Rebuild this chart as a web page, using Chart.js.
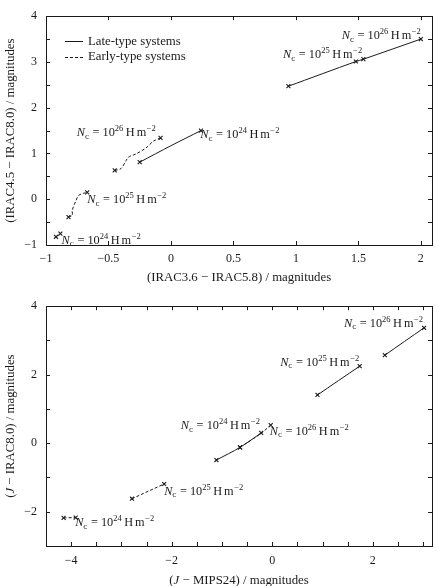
<!DOCTYPE html>
<html><head><meta charset="utf-8">
<script src="https://cdn.jsdelivr.net/npm/chart.js@4.4.1/dist/chart.umd.min.js"></script>
<style>
html,body{margin:0;padding:0;background:#fff;}
#wrap{position:relative;width:436px;height:586px;}
canvas{position:absolute;left:0;}
#c1{top:0;} #c2{top:290px;}
</style></head><body>
<div id="wrap"><canvas id="c1" width="436" height="290"></canvas><canvas id="c2" width="436" height="296"></canvas></div>
<script>
// ---------- DATA ----------
// Top panel: x = IRAC3.6 - IRAC5.8, y = IRAC4.5 - IRAC8.0
const topLateLowX  = [-0.25, 0.00, 0.24];
const topLateLowY  = [0.81, 1.17, 1.50];
const topLateHighX = [0.94, 1.48, 1.54, 2.00];
const topLateHighY = [2.47, 3.01, 3.06, 3.50];
const topEarly24X  = [-0.92, -0.885];
const topEarly24Y  = [-0.82, -0.75];
const topEarly25X  = [-0.82, -0.79, -0.79, -0.76, -0.74, -0.70, -0.67];
const topEarly25Y  = [-0.39, -0.35, -0.24, -0.03, 0.08, 0.13, 0.15];
const topEarly26X  = [-0.45, -0.40, -0.36, -0.34, -0.28, -0.20, -0.14, -0.083];
const topEarly26Y  = [0.63, 0.67, 0.84, 0.92, 0.99, 1.12, 1.27, 1.34];

// Bottom panel: x = J - MIPS24, y = J - IRAC8.0
const botLate24X  = [-1.11, -0.64, -0.22];
const botLate24Y  = [-0.49, -0.12, 0.30];
const botLate25X  = [0.90, 1.74];
const botLate25Y  = [1.41, 2.25];
const botLate26X  = [2.24, 3.02];
const botLate26Y  = [2.57, 3.37];
const botEarly24X = [-4.15, -3.91];
const botEarly24Y = [-2.18, -2.17];
const botEarly25X = [-2.79, -2.15];
const botEarly25Y = [-1.62, -1.19];
const botEarly26X = [-0.64, -0.22, -0.03];
const botEarly26Y = [-0.12, 0.29, 0.53];

// Annotation labels: exponent of N_c, anchor (data coords, text centre), alignment
const topLabelExp   = ['26', '25', '24', '26', '25', '24'];
const topLabelX     = [2.00, 1.53, 0.235, -0.754, -0.67, -0.875];
const topLabelY     = [3.58, 3.17, 1.42, 1.46, 0.00, -0.88];
const topLabelAlign = ['right', 'right', 'left', 'left', 'left', 'left'];
const botLabelExp   = ['26', '25', '24', '26', '25', '24'];
const botLabelX     = [3.00, 1.73, -0.245, -0.05, -2.15, -3.92];
const botLabelY     = [3.51, 2.38, 0.53, 0.36, -1.38, -2.30];
const botLabelAlign = ['right', 'right', 'right', 'left', 'left', 'left'];

const legendLabels = ['Late-type systems', 'Early-type systems'];

// ---------- helpers ----------
const FONT = "'Liberation Serif', 'DejaVu Serif', serif";
const FS = 12;
const FT = 12.8;
const INK = '#1a1a1a';
function fnt(size, italic){ return (italic ? 'italic ' : '') + size + 'px ' + FONT; }
function pts(xs, ys){ return xs.map((x, i) => ({x: x, y: ys[i]})); }
function fmt(v){ const r = Math.round(v * 100) / 100; return r < 0 ? '\u2212' + Math.abs(r) : String(r); }

function drawRich(ctx, parts, x, yBase, align){
  let w = 0;
  parts.forEach(p => { ctx.font = fnt(p.s || FS, p.i); p.w = ctx.measureText(p.t).width + (p.g || 0); w += p.w; });
  let cx = align === 'right' ? x - w : (align === 'center' ? x - w / 2 : x);
  ctx.textAlign = 'left'; ctx.textBaseline = 'alphabetic';
  parts.forEach(p => { ctx.font = fnt(p.s || FS, p.i); ctx.fillText(p.t, cx, yBase + (p.dy || 0)); cx += p.w; });
}
function ncParts(exp){
  return [
    {t: 'N', i: true, s: 12.3},
    {t: 'c', s: 9, dy: 2.5, g: 0.5},
    {t: ' = 10', s: 12.3},
    {t: exp, s: 8.5, dy: -5, g: 2.5},
    {t: 'H', g: 2, s: 12.3},
    {t: 'm', g: 0.5, s: 12.3},
    {t: '\u22122', s: 8.5, dy: -5}
  ];
}

function mkSet(xs, ys, dashed, marks){
  return {
    data: pts(xs, ys),
    showLine: true,
    borderColor: INK,
    borderWidth: 1,
    borderDash: dashed ? [3, 2] : [],
    pointStyle: 'crossRot',
    pointRadius: ctx => marks.includes(ctx.dataIndex) ? 2.8 : 0,
    pointBorderColor: INK,
    pointBorderWidth: 1.1,
    pointHoverRadius: 0,
    tension: 0.3,
    fill: false
  };
}

function framePlugin(cfg){
  return {
    id: 'frame' + cfg.id,
    afterDraw(chart){
      const ctx = chart.ctx, a = chart.chartArea;
      const xs = chart.scales.x, ys = chart.scales.y;
      ctx.save();
      ctx.strokeStyle = INK; ctx.lineWidth = 1;
      ctx.strokeRect(Math.round(a.left) + 0.5, Math.round(a.top) + 0.5, Math.round(a.right - a.left), Math.round(a.bottom - a.top));
      const L = 4;
      ctx.beginPath();
      xs.ticks.forEach(t => {
        const p = Math.round(xs.getPixelForValue(t.value)) + 0.5;
        ctx.moveTo(p, a.bottom); ctx.lineTo(p, a.bottom - L);
        ctx.moveTo(p, a.top); ctx.lineTo(p, a.top + L);
      });
      ys.ticks.forEach(t => {
        const p = Math.round(ys.getPixelForValue(t.value)) + 0.5;
        ctx.moveTo(a.left, p); ctx.lineTo(a.left + L, p);
        ctx.moveTo(a.right, p); ctx.lineTo(a.right - L, p);
      });
      ctx.stroke();
      ctx.fillStyle = INK;
      cfg.labelExp.forEach((e, i) => {
        const px = xs.getPixelForValue(cfg.labelX[i]);
        const py = ys.getPixelForValue(cfg.labelY[i]);
        drawRich(ctx, ncParts(e), px, py + 4, cfg.labelAlign[i]);
      });
      drawRich(ctx, cfg.xTitle, (a.left + a.right) / 2, a.bottom + cfg.xTitleOff, 'center');
      ctx.save();
      ctx.translate(cfg.yTitleX, (a.top + a.bottom) / 2);
      ctx.rotate(-Math.PI / 2);
      drawRich(ctx, cfg.yTitle, 0, 4, 'center');
      ctx.restore();
      if (cfg.legend){
        const lx = a.left + 19, ly = a.top + 25;
        legendLabels.forEach((lab, i) => {
          const y = ly + i * 15.5;
          ctx.beginPath();
          ctx.setLineDash(i === 0 ? [] : [3, 2]);
          ctx.moveTo(lx, Math.round(y) + 0.5); ctx.lineTo(lx + 18, Math.round(y) + 0.5);
          ctx.stroke();
          ctx.setLineDash([]);
          ctx.font = fnt(FT, false);
          ctx.textAlign = 'left'; ctx.textBaseline = 'middle';
          ctx.fillText(lab, lx + 23, y);
        });
      }
      ctx.restore();
    }
  };
}

function makeChart(id, cfg){
  return new Chart(document.getElementById(id), {
    type: 'scatter',
    data: {datasets: cfg.datasets},
    options: {
      responsive: false, animation: false, events: [],
      layout: {padding: {top: cfg.padTop, right: 3, left: 0, bottom: 0}},
      plugins: {legend: {display: false}, tooltip: {enabled: false}},
      scales: {
        x: {
          type: 'linear', min: cfg.xMin, max: cfg.xMax,
          grid: {display: false, drawTicks: false}, border: {display: false},
          ticks: {stepSize: cfg.xStep, includeBounds: false, padding: cfg.xPad, maxRotation: 0, autoSkip: false,
                  color: INK, font: {family: FONT, size: FS},
                  callback: v => cfg.xLab(v) ? fmt(v) : ''},
          afterFit: s => { s.height = cfg.xH; }
        },
        y: {
          type: 'linear', min: cfg.yMin, max: cfg.yMax,
          grid: {display: false, drawTicks: false}, border: {display: false},
          ticks: {stepSize: cfg.yStep, includeBounds: false, padding: 9, autoSkip: false,
                  color: INK, font: {family: FONT, size: FS},
                  callback: v => cfg.yLab(v) ? fmt(v) : ''},
          afterFit: s => { s.width = 46; }
        }
      }
    },
    plugins: [framePlugin(cfg)]
  });
}

const isMult = (v, m) => Math.abs(v / m - Math.round(v / m)) < 1e-6;

makeChart('c1', {
  id: 1, padTop: 5, xH: 45, xPad: 7,
  xMin: -1, xMax: 2.09, xStep: 0.5, xLab: v => true,
  yMin: -1, yMax: 4, yStep: 0.5, yLab: v => isMult(v, 1),
  datasets: [
    mkSet(topLateLowX, topLateLowY, false, [0, 2]),
    mkSet(topLateHighX, topLateHighY, false, [0, 1, 2, 3]),
    mkSet(topEarly24X, topEarly24Y, true, [0, 1]),
    mkSet(topEarly25X, topEarly25Y, true, [0, 6]),
    mkSet(topEarly26X, topEarly26Y, true, [0, 7])
  ],
  labelExp: topLabelExp, labelX: topLabelX, labelY: topLabelY, labelAlign: topLabelAlign,
  xTitle: [{t: '(IRAC3.6 \u2212 IRAC5.8) / magnitudes', s: FT}], xTitleOff: 36,
  yTitle: [{t: '(IRAC4.5 \u2212 IRAC8.0) / magnitudes', s: FT}], yTitleX: 10,
  legend: true
});

makeChart('c2', {
  id: 2, padTop: 15, xH: 40, xPad: 8,
  xMin: -4.5, xMax: 3.18, xStep: 0.5, xLab: v => isMult(v, 2),
  yMin: -3, yMax: 4, yStep: 1, yLab: v => isMult(v, 2),
  datasets: [
    mkSet(botLate24X, botLate24Y, false, [0, 1, 2]),
    mkSet(botLate25X, botLate25Y, false, [0, 1]),
    mkSet(botLate26X, botLate26Y, false, [0, 1]),
    mkSet(botEarly24X, botEarly24Y, true, [0, 1]),
    mkSet(botEarly25X, botEarly25Y, true, [0, 1]),
    mkSet(botEarly26X, botEarly26Y, true, [0, 2])
  ],
  labelExp: botLabelExp, labelX: botLabelX, labelY: botLabelY, labelAlign: botLabelAlign,
  xTitle: [{t: '(', s: FT}, {t: 'J', i: true, s: FT}, {t: ' \u2212 MIPS24) / magnitudes', s: FT}], xTitleOff: 38,
  yTitle: [{t: '(', s: FT}, {t: 'J', i: true, s: FT}, {t: ' \u2212 IRAC8.0) / magnitudes', s: FT}], yTitleX: 10,
  legend: false
});
</script>
</body></html>
